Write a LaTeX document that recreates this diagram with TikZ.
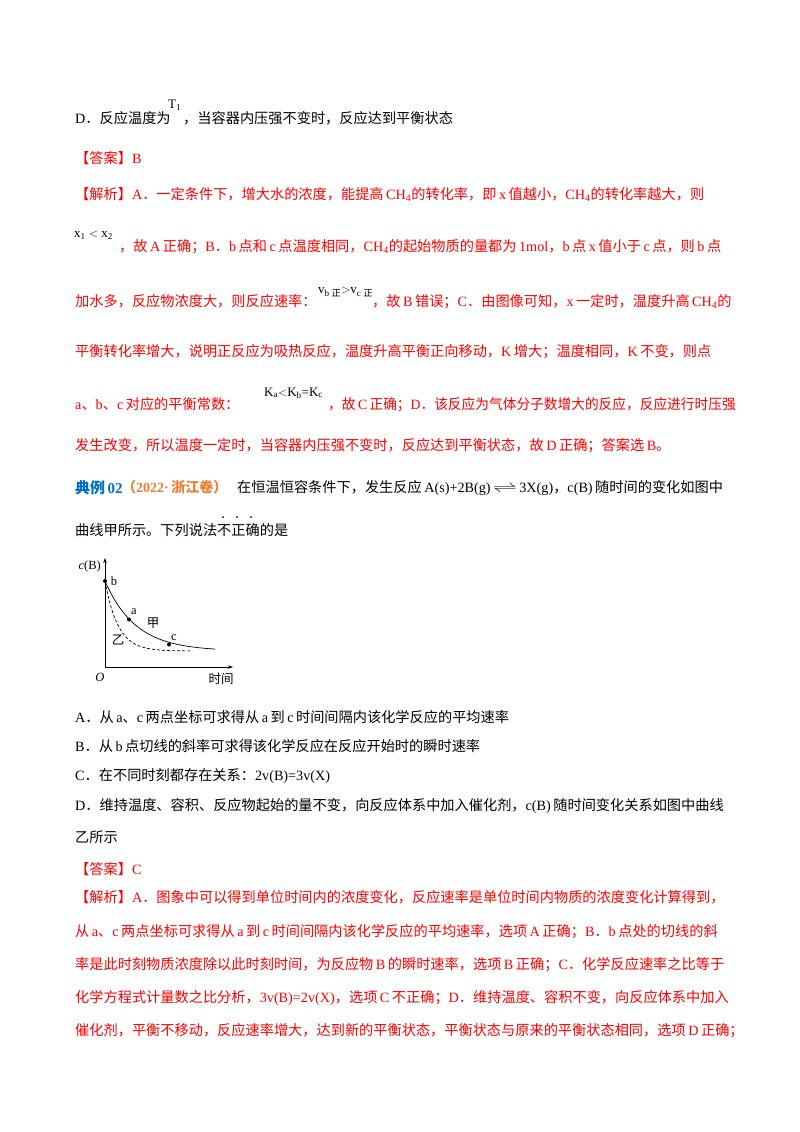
\documentclass[tikz,border=0pt]{standalone}
\usepackage{fontspec}
\setmainfont{Liberation Serif}
\newfontfamily\cjk{Noto Sans CJK SC}
\XeTeXinterchartokenstate=1
\newXeTeXintercharclass\cjkclass
\newXeTeXintercharclass\cjkpunct
\count255="4E00
\loop \XeTeXcharclass\count255=\cjkclass \advance\count255 by 1 \ifnum\count255<"A000 \repeat
\count255="3000
\loop \XeTeXcharclass\count255=\cjkpunct \advance\count255 by 1 \ifnum\count255<"3040 \repeat
\count255="FF00
\loop \XeTeXcharclass\count255=\cjkpunct \advance\count255 by 1 \ifnum\count255<"FFF0 \repeat
\XeTeXinterchartoks 0 \cjkclass = {\hspace{2.5pt}\cjk}
\XeTeXinterchartoks 4095 \cjkclass = {\cjk}
\XeTeXinterchartoks \cjkpunct \cjkclass = {\cjk}
\XeTeXinterchartoks 0 \cjkpunct = {\cjk}
\XeTeXinterchartoks 4095 \cjkpunct = {\cjk}
\XeTeXinterchartoks \cjkclass \cjkpunct = {\cjk}
\XeTeXinterchartoks \cjkclass 0 = {\hspace{2.5pt}\rmfamily}
\XeTeXinterchartoks \cjkpunct 0 = {\rmfamily}
\XeTeXinterchartoks 4095 0 = {\rmfamily}
\definecolor{ansred}{RGB}{255,0,0}
\definecolor{exblue}{RGB}{0,112,192}
\definecolor{exorange}{RGB}{237,125,49}
\usetikzlibrary{arrows.meta}
\tikzset{
  txt/.style={anchor=base west,inner sep=0pt,font=\fontsize{14.2}{16}\selectfont},
  rtxt/.style={txt,text=ansred},
  small/.style={inner sep=0pt,font=\fontsize{13}{14}\selectfont},
  glab/.style={inner sep=0pt,font=\fontsize{12.5}{14}\selectfont},
  axis/.style={line width=0.7pt,-{Stealth[length=5pt,width=3.5pt]}},
  dotpt/.style={circle,fill=black,inner sep=0pt,minimum size=4pt}
}
\begin{document}
\begin{tikzpicture}[x=1pt,y=-1pt]
\useasboundingbox (0,0) rectangle (800,1132);
\fill[white] (0,0) rectangle (800,1132);
% first part
\node[txt] (d1) at (75,123) {D．反应温度为};
\node[small,anchor=west] (t1) at (168,105) {T\textsubscript{1}};
\node[txt] (d2) at (183,123) {，当容器内压强不变时，反应达到平衡状态};
\node[rtxt] (ans1) at (75,163) {【答案】B};
\node[rtxt] (j1) at (75,199) {【解析】A．一定条件下，增大水的浓度，能提高CH\textsubscript{4}的转化率，即x值越小，CH\textsubscript{4}的转化率越大，则};
\node[small,text=black,anchor=west] (x12) at (74,235) {x\textsubscript{1} $<$ x\textsubscript{2}};
\node[rtxt] (j2) at (119,251) {，故A正确；B．b点和c点温度相同，CH\textsubscript{4}的起始物质的量都为1mol，b点x值小于c点，则b点};
\node[rtxt] (j3) at (75,306) {加水多，反应物浓度大，则反应速率：};
\node[small,text=black,anchor=west] (vv) at (318,292) {v\textsubscript{b正}$>$v\textsubscript{c正}};
\node[rtxt] (j3b) at (372,306) {，故B错误；C．由图像可知，x一定时，温度升高CH\textsubscript{4}的};
\node[rtxt] (j4) at (75,356) {平衡转化率增大，说明正反应为吸热反应，温度升高平衡正向移动，K增大；温度相同，K不变，则点};
\node[rtxt] (j5) at (75,409) {a、b、c对应的平衡常数：};
\node[small,text=black,anchor=west] (kk) at (264,393) {K\textsubscript{a}$<$K\textsubscript{b}=K\textsubscript{c}};
\node[rtxt] (j5b) at (328,409) {\scalebox{0.965}[1]{，故C正确；D．该反应为气体分子数增大的反应，反应进行时压强}};
\node[rtxt] (j6) at (75,450) {发生改变，所以温度一定时，当容器内压强不变时，反应达到平衡状态，故D正确；答案选B。};
% example
\node[txt,text=exblue,font=\fontsize{15}{17}\selectfont\bfseries] (ex) at (75,493) {典例\,02};
\node[txt,text=exorange,font=\fontsize{14}{15}\selectfont\bfseries] (src) at (122,492) {（2022·浙江卷）};
\node[txt] (q1) at (237,492) {在恒温恒容条件下，发生反应A(s)+2B(g)\,\scalebox{1.7}[1]{$\rightleftharpoons$}\,3X(g)，c(B)随时间的变化如图中};
\node[txt] (q2) at (75,535) {曲线甲所示。下列说法不正确的是};
\foreach \xx [count=\i] in {223,237,251} \node[circle,fill=black,inner sep=0pt,minimum size=2pt] (em\i) at (\xx,517) {};
% graph
\coordinate (O) at (105,667);
\coordinate (ytop) at (105,558);
\coordinate (xend) at (233,667);
\draw[axis] (O) -- (ytop);
\draw[axis] (O) -- (xend);
\draw[line width=0.7pt] plot[domain=105:215,samples=60,smooth] (\x,{651-70*exp(-(\x-105)/30.7)});
\draw[line width=0.7pt,dashed,dash pattern=on 3pt off 2pt] plot[domain=105:192,samples=60,smooth] (\x,{651-70*exp(-(\x-105)/13)});
\node[dotpt] (pb) at (105,581) {};
\node[dotpt] (pa) at (129,619.5) {};
\node[dotpt] (pc) at (169,644.5) {};
\node[glab,anchor=east] (cb) at (101,566) {\textit{c}(B)};
\node[glab] (lb) at (114,581) {b};
\node[glab] (la) at (134,612) {a};
\node[glab] (lj) at (153,623) {甲};
\node[glab] (lc) at (174,638) {c};
\node[glab] (ly) at (118,640) {乙};
\node[glab] (lo) at (100,677) {\textit{O}};
\node[glab] (lt) at (221,679) {时间};
% options
\node[txt] (oa) at (75,722) {A．从a、c两点坐标可求得从a到c时间间隔内该化学反应的平均速率};
\node[txt] (ob) at (75,751) {B．从b点切线的斜率可求得该化学反应在反应开始时的瞬时速率};
\node[txt] (oc) at (75,780) {C．在不同时刻都存在关系：2v(B)=3v(X)};
\node[txt] (od) at (75,810) {D．维持温度、容积、反应物起始的量不变，向反应体系中加入催化剂，c(B)随时间变化关系如图中曲线};
\node[txt] (od2) at (75,842) {乙所示};
\node[rtxt] (ans2) at (75,874) {【答案】C};
\node[rtxt] (k1) at (75,902) {【解析】A．图象中可以得到单位时间内的浓度变化，反应速率是单位时间内物质的浓度变化计算得到，};
\node[rtxt] (k2) at (75,936) {从a、c两点坐标可求得从a到c时间间隔内该化学反应的平均速率，选项A正确；B．b点处的切线的斜};
\node[rtxt] (k3) at (75,969) {率是此时刻物质浓度除以此时刻时间，为反应物B的瞬时速率，选项B正确；C．化学反应速率之比等于};
\node[rtxt] (k4) at (75,1002) {化学方程式计量数之比分析，3v(B)=2v(X)，选项C不正确；D．维持温度、容积不变，向反应体系中加入};
\node[rtxt] (k5) at (75,1035) {催化剂，平衡不移动，反应速率增大，达到新的平衡状态，平衡状态与原来的平衡状态相同，选项D正确；};
\end{tikzpicture}
\end{document}
